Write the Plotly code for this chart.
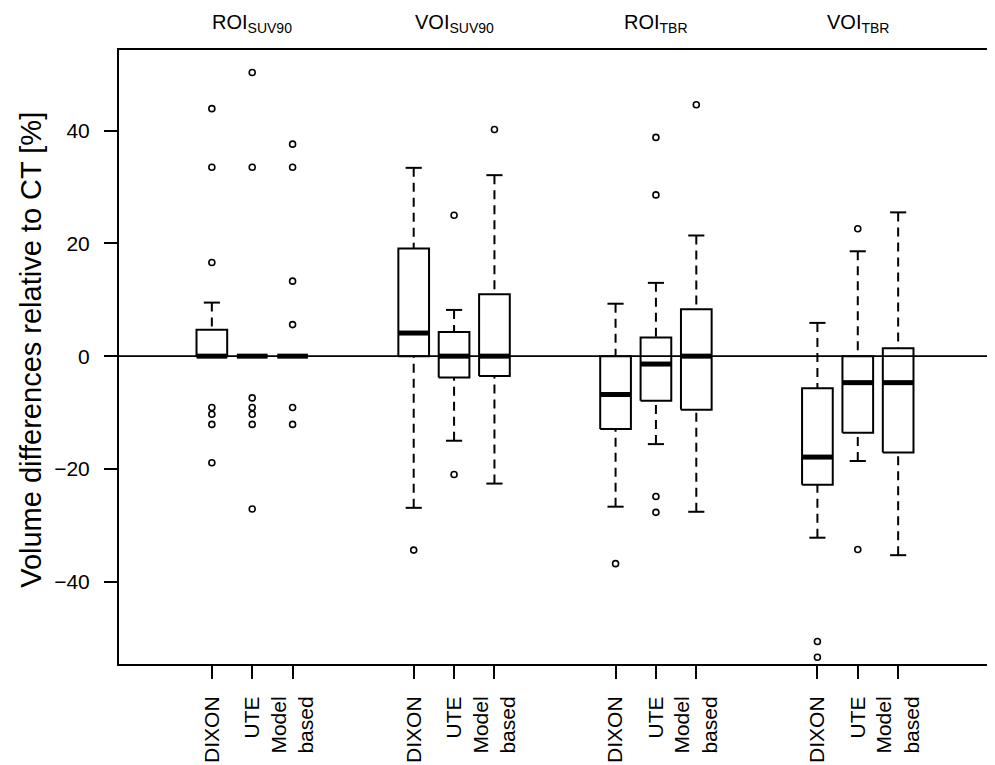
import plotly.graph_objects as go

# ---------------- data ----------------
groups = ["ROI<sub>SUV90</sub>", "VOI<sub>SUV90</sub>", "ROI<sub>TBR</sub>", "VOI<sub>TBR</sub>"]
methods = ["DIXON", "UTE", "Model<br>based"]

# box statistics, 12 boxes (group-major: DIXON, UTE, Model based)
lower_whisker = [0, 0, 0, -26.9, -15.0, -22.6, -26.7, -15.6, -27.6, -32.2, -18.6, -35.3]
q1            = [0, 0, 0, 0.0, -3.8, -3.5, -12.9, -7.9, -9.5, -22.8, -13.6, -17.1]
median        = [0, 0, 0, 4.1, 0.0, 0.0, -6.8, -1.4, 0.0, -17.9, -4.7, -4.7]
q3            = [4.7, 0, 0, 19.1, 4.3, 11.0, 0.0, 3.3, 8.3, -5.7, 0.0, 1.4]
upper_whisker = [9.5, 0, 0, 33.4, 8.2, 32.1, 9.3, 13.0, 21.4, 5.9, 18.6, 25.5]

outliers = [
    [43.9, 33.5, 16.6, -9.1, -10.3, -12.1, -18.9],
    [50.3, 33.5, -7.4, -9.1, -10.3, -12.1, -27.1],
    [37.6, 33.5, 13.3, 5.6, -9.1, -12.1],
    [-34.4],
    [25.0, -21.0],
    [40.2],
    [-36.8],
    [38.8, 28.6, -24.9, -27.7],
    [44.6],
    [-50.6, -53.4],
    [22.6, -34.3],
    [],
]

y_ticks = [-40, -20, 0, 20, 40]
y_title = "Volume differences relative to CT [%]"

# ---------------- layout helpers ----------------
GROUP_STEP = 5
half_box = 0.38
half_cap = 0.2
positions = [g * GROUP_STEP + k + 1 for g in range(len(groups)) for k in range(len(methods))]
tick_text = [m for g in range(len(groups)) for m in methods]

FONT = "Liberation Sans, Arial, sans-serif"

bx, by = [], []
wx, wy = [], []
cx, cy = [], []
mx, my = [], []
ox, oy = [], []
for i, p in enumerate(positions):
    bx += [p - half_box, p + half_box, p + half_box, p - half_box, p - half_box, None]
    by += [q1[i], q1[i], q3[i], q3[i], q1[i], None]
    wx += [p, p, None, p, p, None]
    wy += [upper_whisker[i], q3[i], None, lower_whisker[i], q1[i], None]
    cx += [p - half_cap, p + half_cap, None, p - half_cap, p + half_cap, None]
    cy += [upper_whisker[i], upper_whisker[i], None, lower_whisker[i], lower_whisker[i], None]
    mx += [p - half_box, p + half_box, None]
    my += [median[i], median[i], None]
    for v in outliers[i]:
        ox.append(p)
        oy.append(v)

fig = go.Figure()
fig.add_trace(go.Scatter(x=wx, y=wy, mode="lines",
                         line=dict(color="black", width=2, dash="9px,6px"),
                         hoverinfo="skip", showlegend=False))
fig.add_trace(go.Scatter(x=cx, y=cy, mode="lines",
                         line=dict(color="black", width=2),
                         hoverinfo="skip", showlegend=False))
fig.add_trace(go.Scatter(x=bx, y=by, mode="lines",
                         line=dict(color="black", width=2),
                         hoverinfo="skip", showlegend=False))
fig.add_trace(go.Scatter(x=mx, y=my, mode="lines",
                         line=dict(color="black", width=5),
                         hoverinfo="skip", showlegend=False))
fig.add_trace(go.Scatter(x=ox, y=oy, mode="markers",
                         marker=dict(symbol="circle-open", size=6, color="black",
                                     line=dict(width=1.6, color="black")),
                         hoverinfo="skip", showlegend=False))

# reference line at zero
fig.add_shape(type="line", xref="paper", x0=0, x1=1, yref="y", y0=0, y1=0,
              line=dict(color="black", width=1.6))

# group titles
for g, name in enumerate(groups):
    fig.add_annotation(x=g * GROUP_STEP + 2, xref="x", y=1, yref="paper",
                       yanchor="bottom", yshift=12, text=name, showarrow=False,
                       font=dict(family=FONT, size=20, color="black"))

# y-axis title
fig.add_annotation(x=-0.1018, xref="paper", y=0.512, yref="paper",
                   text=y_title, textangle=-90, showarrow=False,
                   xanchor="center", yanchor="middle",
                   font=dict(family=FONT, size=29, color="black"))

fig.update_layout(
    width=987, height=757,
    margin=dict(l=111, r=2, t=42, b=93),
    plot_bgcolor="white", paper_bgcolor="white",
    font=dict(family=FONT, color="black"),
    xaxis=dict(range=[-1.3, 20.3], tickvals=positions, ticktext=tick_text,
               tickangle=-90, ticks="outside", ticklen=13, tickwidth=2,
               tickcolor="black", showline=True, mirror=True, linewidth=2,
               linecolor="black", showgrid=False, zeroline=False,
               ticklabelstandoff=9,
               tickfont=dict(family=FONT, size=21, color="black")),
    yaxis=dict(range=[-54.6, 54.3], tickvals=y_ticks, ticks="outside",
               ticklen=13, tickwidth=2, tickcolor="black", showline=True,
               mirror=True, linewidth=2, linecolor="black", showgrid=False,
               zeroline=False, ticklabelstandoff=10,
               tickfont=dict(family=FONT, size=21, color="black")),
)

fig.write_html("out.html")
